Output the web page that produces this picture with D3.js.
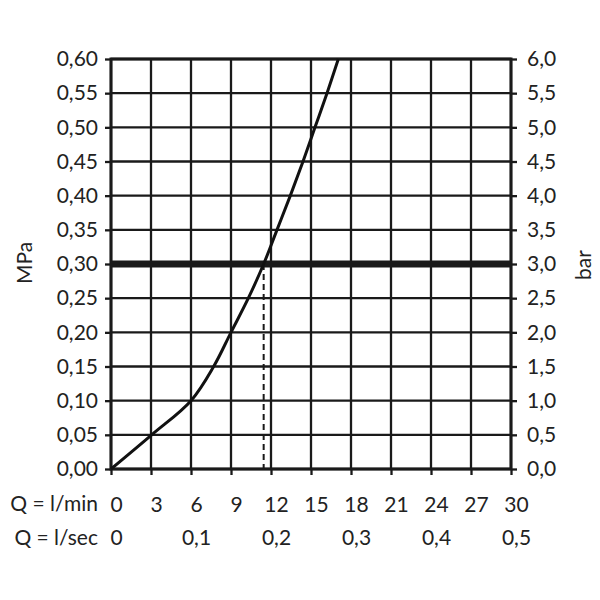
<!DOCTYPE html>
<html>
<head>
<meta charset="utf-8">
<title>Q / p</title>
<script src="https://cdn.jsdelivr.net/npm/d3@7"></script>
<style>
  body { margin: 0; background: #fff; }
  text { font-family: Lato, "Open Sans", sans-serif; fill: #222; }
</style>
</head>
<body>
<script>
// tick labels
var qMinTicks = [0, 3, 6, 9, 12, 15, 18, 21, 24, 27, 30];
var qSecTicks = [0, 0.1, 0.2, 0.3, 0.4, 0.5];
var mpaTicks = [0, 0.05, 0.10, 0.15, 0.20, 0.25, 0.30, 0.35, 0.40, 0.45, 0.50, 0.55, 0.60];
var barTicks = [0, 0.5, 1, 1.5, 2, 2.5, 3, 3.5, 4, 4.5, 5, 5.5, 6];

// curve: flow (l/min) vs pressure (MPa)
var curveQ = [0, 3.05, 6.0, 7.7, 9.0, 10.3, 11.45, 12.45, 13.45, 14.4, 15.3, 16.2, 17.05];
var curveP = [0, 0.05, 0.10, 0.15, 0.20, 0.25, 0.30, 0.35, 0.40, 0.45, 0.50, 0.55, 0.60];

// operating point
var refP = 0.30;
var refQ = 11.45;

var width = 600, height = 600;
var plotLeft = 111, plotRight = 511, plotTop = 59, plotBottom = 469;
var fontSize = 21;

var comma = function(f) { return function(d) { return d3.format(f)(d).replace(".", ","); }; };

var x = d3.scaleLinear().domain([0, 30]).range([plotLeft, plotRight]);
var xSec = d3.scaleLinear().domain([0, 0.5]).range([plotLeft, plotRight]);
var y = d3.scaleLinear().domain([0, 0.6]).range([plotBottom, plotTop]);
var yBar = d3.scaleLinear().domain([0, 6]).range([plotBottom, plotTop]);

var svg = d3.select("body").append("svg")
    .attr("width", width)
    .attr("height", height);

// grid
svg.append("g").selectAll("line")
    .data(qMinTicks)
    .enter().append("line")
    .attr("x1", function(d) { return x(d); })
    .attr("x2", function(d) { return x(d); })
    .attr("y1", plotTop).attr("y2", plotBottom)
    .attr("stroke", "#1a1a1a").attr("stroke-width", 2.3);

svg.append("g").selectAll("line")
    .data(mpaTicks)
    .enter().append("line")
    .attr("x1", plotLeft).attr("x2", plotRight)
    .attr("y1", function(d) { return y(d); })
    .attr("y2", function(d) { return y(d); })
    .attr("stroke", "#1a1a1a").attr("stroke-width", 2.3);

// axes (ticks + labels)
function styleAxis(g) {
    g.select(".domain").remove();
    g.selectAll(".tick line").attr("stroke", "#1a1a1a").attr("stroke-width", 2.3);
    g.selectAll("text").attr("font-size", fontSize).attr("fill", "#222");
}

svg.append("g")
    .attr("transform", "translate(" + plotLeft + ",0)")
    .call(d3.axisLeft(y).tickValues(mpaTicks).tickSize(6).tickPadding(7).tickFormat(comma(".2f")))
    .call(styleAxis);

svg.append("g")
    .attr("transform", "translate(" + plotRight + ",0)")
    .call(d3.axisRight(yBar).tickValues(barTicks).tickSize(6).tickPadding(10).tickFormat(comma(".1f")))
    .call(styleAxis);

svg.append("g")
    .attr("transform", "translate(0," + plotBottom + ")")
    .call(d3.axisBottom(x).tickValues(qMinTicks).tickSize(6).tickPadding(22).tickFormat(d3.format("d")))
    .call(styleAxis)
    .selectAll("text").attr("dx", 5);

svg.append("g")
    .attr("transform", "translate(0," + plotBottom + ")")
    .call(d3.axisBottom(xSec).tickValues(qSecTicks).tickSize(0).tickPadding(61).tickFormat(function(d) { return d === 0 ? "0" : comma(".1f")(d); }))
    .call(styleAxis)
    .selectAll("text").attr("dx", 5);

// frame
svg.append("rect")
    .attr("x", plotLeft).attr("y", plotTop)
    .attr("width", plotRight - plotLeft).attr("height", plotBottom - plotTop)
    .attr("fill", "none").attr("stroke", "#1a1a1a").attr("stroke-width", 3);

// 0,3 MPa line
svg.append("line")
    .attr("x1", plotLeft).attr("x2", plotRight)
    .attr("y1", y(refP)).attr("y2", y(refP))
    .attr("stroke", "#1a1a1a").attr("stroke-width", 7);

// dashed drop line
svg.append("line")
    .attr("x1", x(refQ)).attr("x2", x(refQ))
    .attr("y1", y(refP)).attr("y2", y(0))
    .attr("stroke", "#1a1a1a").attr("stroke-width", 2)
    .attr("stroke-dasharray", "6,4");

// curve
var pts = curveQ.map(function(q, i) { return [q, curveP[i]]; });
svg.append("path")
    .datum(pts)
    .attr("fill", "none")
    .attr("stroke", "#111")
    .attr("stroke-width", 3)
    .attr("d", d3.line()
        .x(function(d) { return x(d[0]); })
        .y(function(d) { return y(d[1]); })
        .curve(d3.curveCatmullRom.alpha(0.5)));

// axis titles
svg.append("text")
    .attr("transform", "translate(32,263) rotate(-90)")
    .attr("text-anchor", "middle")
    .attr("font-size", fontSize)
    .text("MPa");

svg.append("text")
    .attr("transform", "translate(591,265) rotate(-90)")
    .attr("text-anchor", "middle")
    .attr("font-size", fontSize)
    .text("bar");

svg.append("text")
    .attr("x", 98).attr("y", 511)
    .attr("text-anchor", "end")
    .attr("font-size", fontSize)
    .text("Q = l/min");

svg.append("text")
    .attr("x", 98).attr("y", 545)
    .attr("text-anchor", "end")
    .attr("font-size", fontSize)
    .text("Q = l/sec");
</script>
</body>
</html>
